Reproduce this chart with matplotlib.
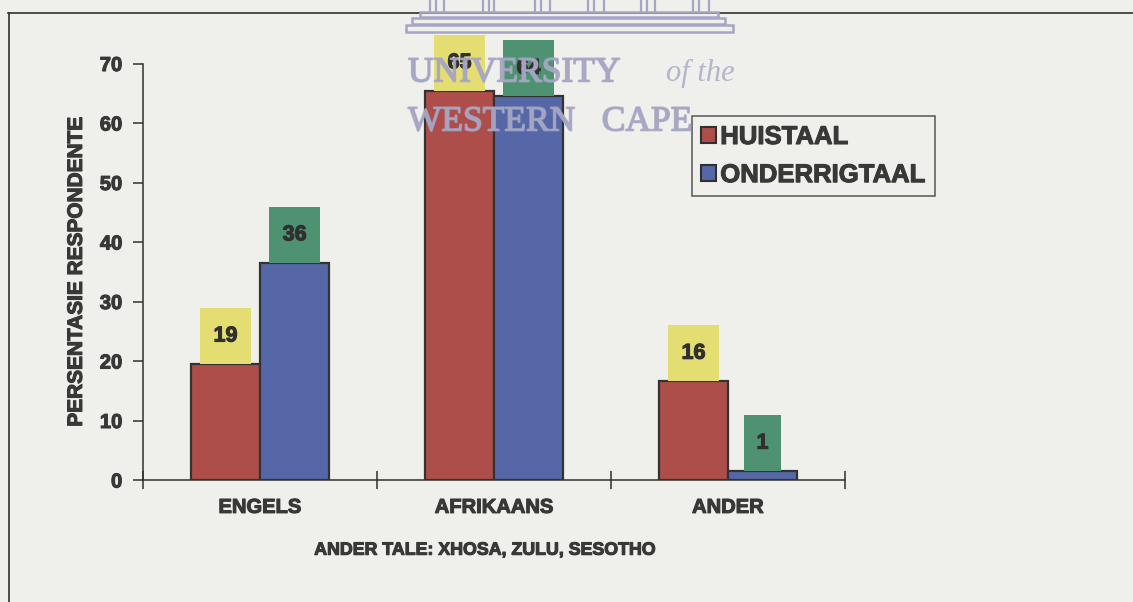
import matplotlib
matplotlib.use("Agg")
import matplotlib.pyplot as plt
import matplotlib.patheffects as pe
from matplotlib.patches import Rectangle, Patch
from matplotlib.lines import Line2D

# ---- data ----
categories = ["ENGELS", "AFRIKAANS", "ANDER"]
series_names = ["HUISTAAL", "ONDERRIGTAAL"]
huistaal = [19.5, 65.4, 16.6]
onderrigtaal = [36.5, 64.5, 1.5]
huistaal_labels = ["19", "65", "16"]
onderrigtaal_labels = ["36", "64", "1"]
yticks = [0, 10, 20, 30, 40, 50, 60, 70]
ylabel = "PERSENTASIE RESPONDENTE"
xlabel = "ANDER TALE: XHOSA, ZULU, SESOTHO"

# ---- style ----
W, H = 1133, 602
BG = "#efefec"
TXT = "#383838"
RED = "#ae4e4b"
BLUE = "#5567a6"
YEL = "#e4de72"
GRN = "#4f9272"
WM = "#a6a6c4"
plt.rcParams["font.family"] = ["Liberation Sans", "DejaVu Sans"]
plt.rcParams["font.weight"] = "bold"

def heavy(color=TXT, w=0.8):
    return [pe.withStroke(linewidth=w, foreground=color)]

fig = plt.figure(figsize=(W / 100, H / 100), dpi=100, facecolor=BG)

def fx(px):
    return px / W

def fy(py):
    return 1 - py / H

# outer frame (top and left)
fig.add_artist(Line2D([fx(8), fx(1133)], [fy(13), fy(13)], color="#303030", lw=1.2))
fig.add_artist(Line2D([fx(9), fx(9)], [fy(13), fy(602)], color="#303030", lw=1.2))

ax = fig.add_axes([fx(143), fy(480), fx(845) - fx(143), fy(63.5) - fy(480)])
ax.set_facecolor("none")
ax.set_xlim(-0.5, len(categories) - 0.5)
ax.set_ylim(0, 70)

bw = 0.295
xs = list(range(len(categories)))
ax.bar([x - bw / 2 for x in xs], huistaal, width=bw, color=RED, edgecolor="#333333",
       linewidth=1.6, zorder=3)
ax.bar([x + bw / 2 for x in xs], onderrigtaal, width=bw, color=BLUE, edgecolor="#333333",
       linewidth=1.6, zorder=3)

# value label boxes
box_h = 9.4
def label_box(xc, top, txt, color):
    w = 0.102 + 0.06 * len(txt)
    r = Rectangle((xc - w / 2, top), w, box_h, facecolor=color, edgecolor="none",
                  zorder=4, clip_on=False)
    ax.add_patch(r)
    ax.text(xc, top + box_h / 2, txt, ha="center", va="center", fontsize=15.5,
            fontweight="bold", color="#303030", zorder=5, clip_on=False,
            path_effects=heavy("#303030"))

for x, v, t in zip(xs, huistaal, huistaal_labels):
    label_box(x - bw / 2, v, t, YEL)
for x, v, t in zip(xs, onderrigtaal, onderrigtaal_labels):
    label_box(x + bw / 2, v, t, GRN)

# axes styling
for s in ["top", "right"]:
    ax.spines[s].set_visible(False)
ax.spines["left"].set_color("#303030")
ax.spines["bottom"].set_color("#303030")
ax.spines["left"].set_linewidth(1.1)
ax.spines["bottom"].set_linewidth(1.1)
ax.set_yticks(yticks)
ax.set_yticklabels([str(v) for v in yticks], fontsize=14.5, fontweight="bold", color=TXT)
for t in ax.get_yticklabels():
    t.set_path_effects(heavy())
ax.tick_params(axis="y", direction="out", length=7, width=1.1, color="#303030", pad=8)
ax.set_xticks([x - 0.5 for x in xs] + [len(xs) - 0.5])
ax.set_xticklabels([])
ax.tick_params(axis="x", direction="inout", length=13, width=1.1, color="#303030")
for x, c in zip(xs, categories):
    ax.text(x, -4.6, c, ha="center", va="center", fontsize=14.5, fontweight="bold",
            color=TXT, path_effects=heavy())
ax.text(1.0 - 0.04, -11.8, xlabel, ha="center", va="center", fontsize=12.8,
        fontweight="bold", color=TXT, path_effects=heavy())
ax.set_ylabel(ylabel, fontsize=15, fontweight="bold", color=TXT, labelpad=10,
              path_effects=heavy())

# legend
handles = [Patch(facecolor=RED, edgecolor="#303030", linewidth=1.5),
           Patch(facecolor=BLUE, edgecolor="#303030", linewidth=1.5)]
leg = fig.legend(handles, series_names, loc="upper left",
                 bbox_to_anchor=(fx(692), fy(116)), frameon=True, fancybox=False,
                 fontsize=18.5, handlelength=0.6, handleheight=0.6,
                 handletextpad=0.15, labelspacing=0.55, borderpad=0.35,
                 borderaxespad=0)
leg.get_frame().set_edgecolor("#303030")
leg.get_frame().set_linewidth(1.1)
leg.get_frame().set_facecolor(BG)
for t in leg.get_texts():
    t.set_color(TXT)
    t.set_fontweight("bold")
    t.set_path_effects(heavy())

# watermark (university logo)
for gx0, gx1 in [(427, 447), (480, 497), (532, 553), (585, 607), (638, 658), (690, 712)]:
    for px in (gx0 + 3, gx0 + 9, gx1 - 3):
        fig.add_artist(Line2D([fx(px), fx(px)], [fy(0), fy(11)], color=WM, lw=1.6, zorder=10))
for x0, x1, y0, y1 in [(420, 718, 12, 17), (412, 725, 18, 24), (406, 733, 25, 32)]:
    fig.add_artist(Rectangle((fx(x0), fy(y1)), fx(x1) - fx(x0), fy(y0) - fy(y1),
                             transform=fig.transFigure, facecolor="none",
                             edgecolor=WM, lw=1.8, zorder=10))
wm_kw = dict(family="Liberation Serif", color=WM, alpha=0.8, va="center", zorder=10,
             fontweight="normal")
wm_pe = [pe.withStroke(linewidth=1.2, foreground=WM)]
fig.text(fx(408), fy(73), "UNIVERSITY", fontsize=25.5, ha="left", path_effects=wm_pe, **wm_kw)
fig.text(fx(735), fy(73), "of the", fontsize=22, style="italic", ha="right", **wm_kw)
fig.text(fx(408), fy(122), "WESTERN   CAPE", fontsize=25.5, ha="left", path_effects=wm_pe,
         **wm_kw)

fig.savefig("out.png", dpi=100, facecolor=BG)
